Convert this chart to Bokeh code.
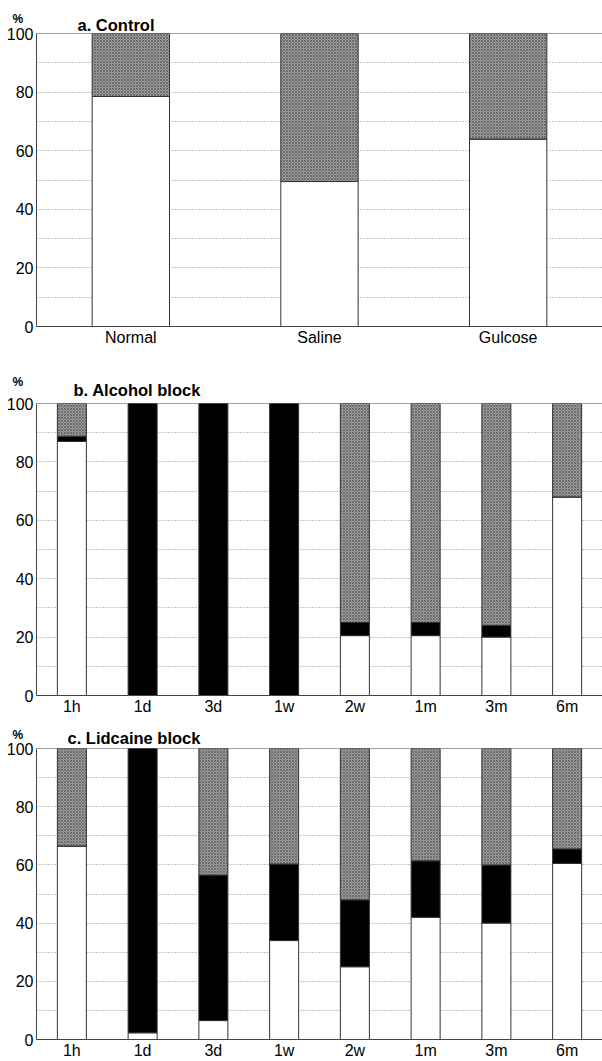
from bokeh.plotting import figure
from bokeh.layouts import column
from bokeh.models import ColumnDataSource, FixedTicker, Span, Range1d, Title
from bokeh.embed import file_html
from bokeh.resources import INLINE

# ---------------- data ----------------
a_categories = ["Normal", "Saline", "Gulcose"]
a_white = [78.5, 49.5, 64.0]
a_black = [0.0, 0.0, 0.0]
a_gray = [21.5, 50.5, 36.0]

b_categories = ["1h", "1d", "3d", "1w", "2w", "1m", "3m", "6m"]
b_white = [87.0, 0.0, 0.0, 0.0, 20.5, 20.5, 20.0, 68.0]
b_black = [1.8, 100.0, 100.0, 100.0, 4.5, 4.5, 4.0, 0.0]
b_gray = [11.2, 0.0, 0.0, 0.0, 75.0, 75.0, 76.0, 32.0]

c_categories = ["1h", "1d", "3d", "1w", "2w", "1m", "3m", "6m"]
c_white = [66.5, 2.3, 6.5, 34.0, 25.0, 42.0, 40.0, 60.5]
c_black = [0.0, 97.7, 50.0, 26.3, 23.0, 19.4, 20.0, 5.0]
c_gray = [33.5, 0.0, 43.5, 39.7, 52.0, 38.6, 40.0, 34.5]

y_ticks = [0, 20, 40, 60, 80, 100]
grid_ticks = [10, 20, 30, 40, 50, 60, 70, 80, 90]

FONT = "Liberation Sans"
EDGE = "#444444"


def make_panel(title, cats, white, black, gray, height, top, bottom,
               title_dx, title_standoff, pct_standoff):
    n = len(cats)
    xs = [i + 0.5 for i in range(n)]
    src = ColumnDataSource(dict(x=xs, white=white, black=black, gray=gray))
    p = figure(width=602, height=height, output_backend="svg", toolbar_location=None,
               x_range=Range1d(0, n), y_range=Range1d(0, 100),
               min_border_left=36, min_border_right=0,
               min_border_top=top, min_border_bottom=bottom)
    p.outline_line_color = None
    p.background_fill_color = "white"
    p.border_fill_color = "white"

    p.vbar_stack(["white", "black", "gray"], x="x", width=0.41, source=src,
                 fill_color=["white", "black", "#a0a0a0"],
                 line_color="#333333", line_width=1,
                 hatch_pattern=[" ", " ", "x"], hatch_color="#5e5e5e",
                 hatch_scale=3, hatch_weight=0.8)

    # grid
    p.xgrid.visible = False
    p.ygrid.ticker = FixedTicker(ticks=grid_ticks)
    p.ygrid.grid_line_color = "#8a8a8a"
    p.ygrid.grid_line_dash = "1 2"
    p.ygrid.grid_line_width = 1
    p.ygrid.level = "underlay"

    # y axis
    p.yaxis.ticker = FixedTicker(ticks=y_ticks)
    p.yaxis.major_tick_out = 0
    p.yaxis.major_tick_in = 0
    p.yaxis.minor_tick_out = 0
    p.yaxis.minor_tick_in = 0
    p.yaxis.major_label_standoff = 3
    p.yaxis.axis_line_color = EDGE
    p.yaxis.major_label_text_font = FONT
    p.yaxis.major_label_text_font_size = "16px"
    p.yaxis.major_label_text_color = "black"

    # x axis
    p.xaxis.ticker = FixedTicker(ticks=xs)
    p.xaxis.major_label_overrides = {x: c for x, c in zip(xs, cats)}
    p.xaxis.major_tick_out = 0
    p.xaxis.major_tick_in = 0
    p.xaxis.minor_tick_out = 0
    p.xaxis.minor_tick_in = 0
    p.xaxis.major_label_standoff = 2
    p.xaxis.axis_line_color = EDGE
    p.xaxis.major_label_text_font = FONT
    p.xaxis.major_label_text_font_size = "16px"
    p.xaxis.major_label_text_color = "black"

    p.add_layout(Span(location=100, dimension="width", line_color=EDGE, line_width=1))

    p.title.text = title
    p.title.align = "left"
    p.title.offset = title_dx
    p.title.standoff = title_standoff
    p.title.text_font = FONT
    p.title.text_font_style = "bold"
    p.title.text_font_size = "16.5px"
    p.title.text_color = "black"

    p.add_layout(Title(text="%", align="left", offset=-24, standoff=pct_standoff,
                       text_font=FONT, text_font_size="12px", text_font_style="bold",
                       text_color="black"), "above")
    return p


pa = make_panel("a. Control", a_categories, a_white, a_black, a_gray,
                height=353, top=33, bottom=27,
                title_dx=41, title_standoff=-64.5, pct_standoff=16)
pb = make_panel("b. Alcohol block", b_categories, b_white, b_black, b_gray,
                height=364, top=50, bottom=22,
                title_dx=37, title_standoff=-81, pct_standoff=29)
pc = make_panel("c. Lidcaine block", c_categories, c_white, c_black, c_gray,
                height=344, top=31, bottom=20,
                title_dx=31, title_standoff=-56.5, pct_standoff=14)

layout = column(pa, pb, pc)
open("out.html", "w").write(file_html(layout, INLINE))
